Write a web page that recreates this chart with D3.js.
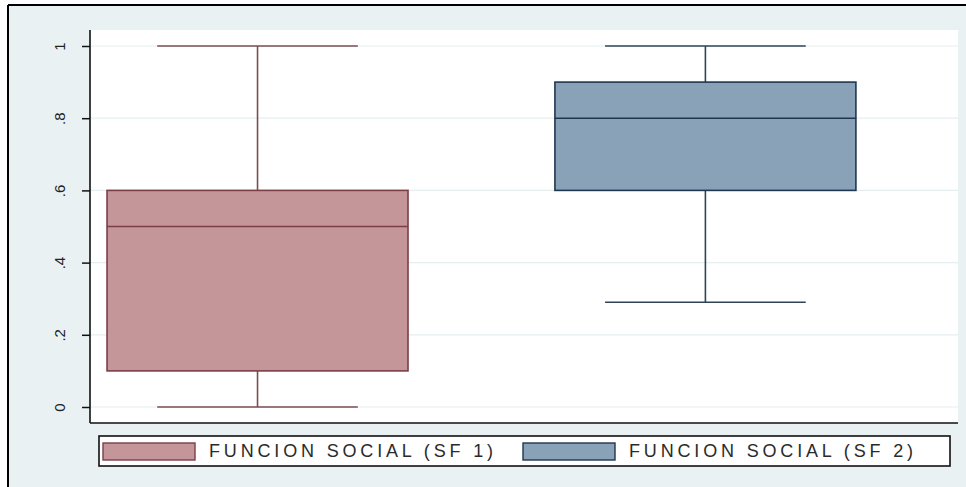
<!DOCTYPE html>
<html>
<head>
<meta charset="utf-8">
<script src="https://cdn.jsdelivr.net/npm/d3@7"></script>
<style>
  html, body { margin: 0; padding: 0; background: #ffffff; }
  svg { display: block; font-family: "Liberation Sans", Arial, sans-serif; }
</style>
</head>
<body>
<svg id="chart" width="966" height="487"></svg>
<script>
// Groups and their box-plot summaries
const categories = ["FUNCION SOCIAL (SF 1)", "FUNCION SOCIAL (SF 2)"];
const lowerWhisker = [0.0, 0.29];
const q1 = [0.1, 0.6];
const median = [0.5, 0.8];
const q3 = [0.6, 0.9];
const upperWhisker = [1.0, 1.0];
const tickValues = [0, 0.2, 0.4, 0.6, 0.8, 1];
const tickLabels = ["0", ".2", ".4", ".6", ".8", "1"];

const fills = ["#c4969a", "#8aa2b8"];
const strokes = ["#7b3e47", "#1f3650"];
const whiskerColors = ["#7a4d54", "#2f4356"];

const svg = d3.select("#chart");
const W = 966, H = 487;

// graph background and outer frame
svg.append("rect").attr("x", 0).attr("y", 0).attr("width", W).attr("height", H).attr("fill", "#ffffff");
svg.append("rect").attr("x", 8).attr("y", 5).attr("width", W - 8).attr("height", H - 5).attr("fill", "#eaf1f3");
svg.append("line").attr("x1", 8).attr("x2", 8).attr("y1", 5).attr("y2", H).attr("stroke", "#000").attr("stroke-width", 2);
svg.append("line").attr("x1", 8).attr("x2", W).attr("y1", 5).attr("y2", 5).attr("stroke", "#000").attr("stroke-width", 2);

const plot = { left: 90, right: 958, top: 30, bottom: 423 };

// plot region
svg.append("rect")
  .attr("x", plot.left).attr("y", plot.top)
  .attr("width", plot.right - plot.left).attr("height", plot.bottom - plot.top)
  .attr("fill", "#ffffff");

const y = d3.scaleLinear().domain([0, 1]).range([407, 46]);
const x = d3.scaleBand()
  .domain(categories)
  .range([plot.left, plot.right])
  .paddingInner(0.328)
  .paddingOuter(0.133)
  .align(0.143);

// grid lines
svg.append("g").selectAll("line")
  .data(tickValues)
  .join("line")
  .attr("x1", plot.left).attr("x2", plot.right)
  .attr("y1", d => y(d)).attr("y2", d => y(d))
  .attr("stroke", "#e7eef0").attr("stroke-width", 1.2);

// boxes
const groups = svg.append("g").selectAll("g")
  .data(categories.map((c, i) => ({ c, i })))
  .join("g");

groups.each(function (d) {
  const g = d3.select(this);
  const i = d.i;
  const x0 = x(d.c), bw = x.bandwidth(), cx = x0 + bw / 2;
  const capHalf = bw / 3;
  // whiskers
  g.append("line").attr("x1", cx).attr("x2", cx)
    .attr("y1", y(upperWhisker[i])).attr("y2", y(q3[i]))
    .attr("stroke", whiskerColors[i]).attr("stroke-width", 1.6);
  g.append("line").attr("x1", cx).attr("x2", cx)
    .attr("y1", y(q1[i])).attr("y2", y(lowerWhisker[i]))
    .attr("stroke", whiskerColors[i]).attr("stroke-width", 1.6);
  g.append("line").attr("x1", cx - capHalf).attr("x2", cx + capHalf)
    .attr("y1", y(upperWhisker[i])).attr("y2", y(upperWhisker[i]))
    .attr("stroke", whiskerColors[i]).attr("stroke-width", 1.6);
  g.append("line").attr("x1", cx - capHalf).attr("x2", cx + capHalf)
    .attr("y1", y(lowerWhisker[i])).attr("y2", y(lowerWhisker[i]))
    .attr("stroke", whiskerColors[i]).attr("stroke-width", 1.6);
  // box
  g.append("rect")
    .attr("x", x0).attr("y", y(q3[i]))
    .attr("width", bw).attr("height", y(q1[i]) - y(q3[i]))
    .attr("fill", fills[i]).attr("stroke", strokes[i]).attr("stroke-width", 1.6);
  // median
  g.append("line").attr("x1", x0).attr("x2", x0 + bw)
    .attr("y1", y(median[i])).attr("y2", y(median[i]))
    .attr("stroke", strokes[i]).attr("stroke-width", 1.6);
});

// y axis
const yAxis = d3.axisLeft(y)
  .tickValues(tickValues)
  .tickFormat((d, i) => tickLabels[i])
  .tickSize(8)
  .tickPadding(0);
const ag = svg.append("g").attr("transform", `translate(${plot.left},0)`).call(yAxis);
ag.select(".domain").remove();
ag.selectAll(".tick line").attr("stroke", "#111").attr("stroke-width", 1.5);
ag.selectAll(".tick text")
  .attr("x", 0).attr("y", 0).attr("dy", null)
  .attr("transform", "translate(-29,0) rotate(-90)")
  .attr("text-anchor", "middle")
  .attr("dominant-baseline", "middle")
  .attr("fill", "#222")
  .style("font-size", "15px");
svg.append("line").attr("x1", plot.left).attr("x2", plot.left)
  .attr("y1", plot.top).attr("y2", plot.bottom)
  .attr("stroke", "#111").attr("stroke-width", 1.6);
// bottom axis line
svg.append("line").attr("x1", plot.left).attr("x2", plot.right)
  .attr("y1", plot.bottom).attr("y2", plot.bottom)
  .attr("stroke", "#111").attr("stroke-width", 1.6);

// legend
const leg = svg.append("g");
leg.append("rect").attr("x", 99).attr("y", 436).attr("width", 851).attr("height", 30)
  .attr("fill", "#ffffff").attr("stroke", "#111").attr("stroke-width", 1.6);
const legX = [103, 523];
categories.forEach((c, i) => {
  leg.append("rect").attr("x", legX[i]).attr("y", 443).attr("width", 92).attr("height", 17)
    .attr("fill", fills[i]).attr("stroke", strokes[i]).attr("stroke-width", 1.4);
  leg.append("text").attr("x", legX[i] + 106).attr("y", 452)
    .attr("dominant-baseline", "middle")
    .attr("textLength", 284).attr("lengthAdjust", "spacing")
    .attr("fill", "#2a2a2a")
    .style("font-size", "18px")
    .text(c);
});
</script>
</body>
</html>
